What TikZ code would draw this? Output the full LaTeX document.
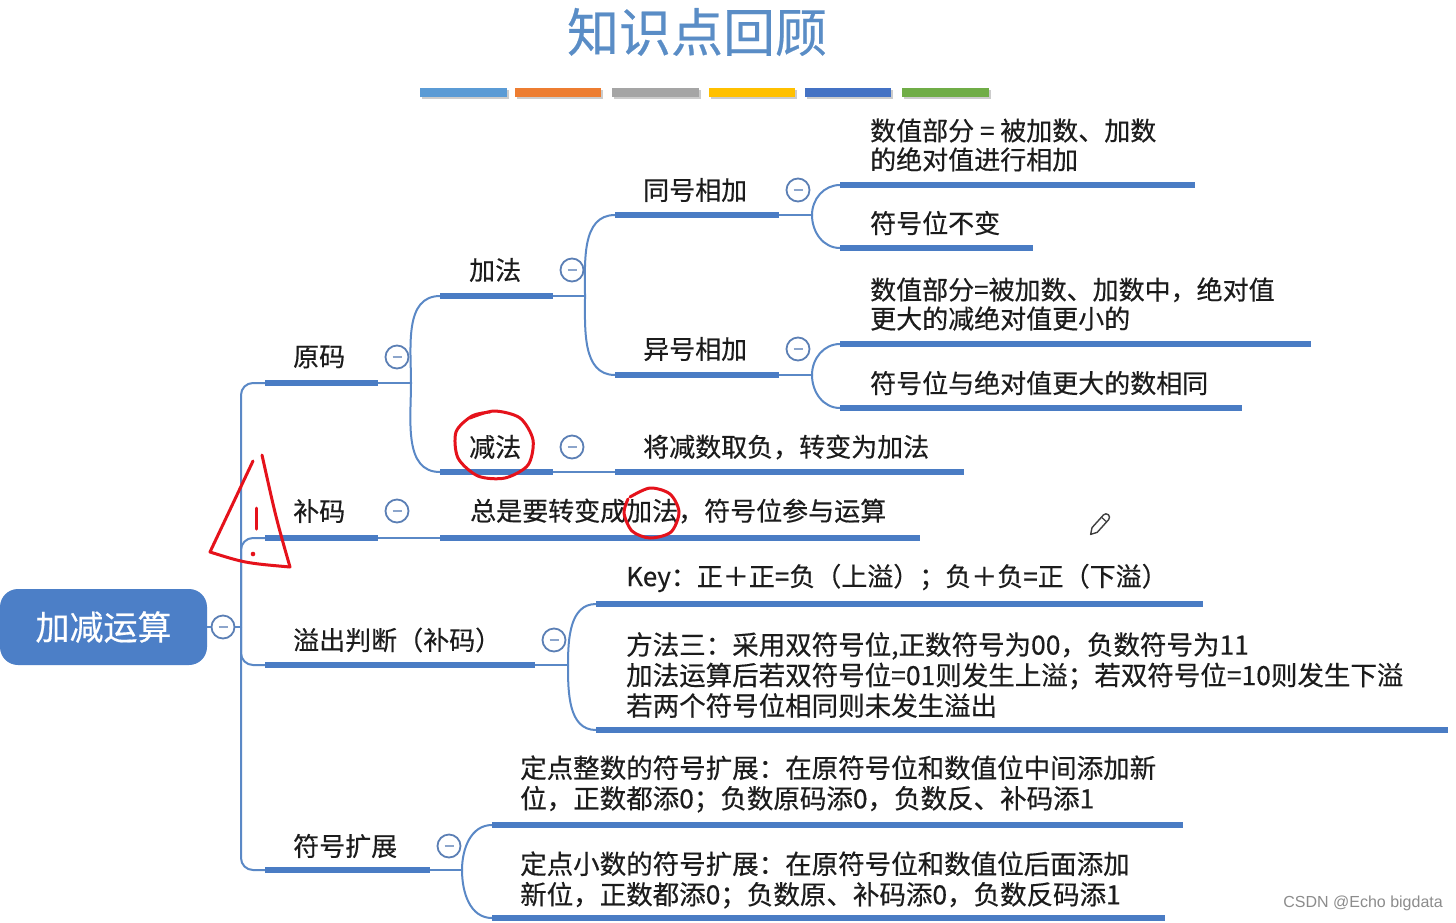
\documentclass[tikz,border=0pt]{standalone}
\usepackage{fontspec}
\setmainfont{Noto Sans CJK SC}[FakeBold=0.4]
\newfontfamily\wmfont{Liberation Sans}
\definecolor{lineblue}{HTML}{4A7CC4}
\definecolor{connblue}{HTML}{5A88C6}
\definecolor{foldblue}{HTML}{5B7FB5}
\definecolor{rootblue}{HTML}{4C7FC7}
\definecolor{titleblue}{HTML}{5A8DC6}
\definecolor{textblack}{HTML}{1C1C1C}
\definecolor{annored}{HTML}{E5121B}
\definecolor{barA}{HTML}{5B9BD5}
\definecolor{barB}{HTML}{ED7D31}
\definecolor{barC}{HTML}{A5A5A5}
\definecolor{barD}{HTML}{FFC000}
\definecolor{barE}{HTML}{4472C4}
\definecolor{barF}{HTML}{70AD47}
\begin{document}
\begin{tikzpicture}[x=1pt,y=-1pt,
  txt/.style={anchor=west, inner sep=0pt, text=textblack, font=\fontsize{26}{29}\selectfont, align=left},
  txtb/.style={txt, font=\fontsize{26.5}{30.5}\selectfont},
  uline/.style={line width=6pt, draw=lineblue},
  conn/.style={line width=2pt, draw=connblue},
  foldc/.style={circle, draw=foldblue, line width=1.8pt, fill=white, minimum size=23pt, inner sep=0pt,
    path picture={\draw[foldblue!70, line width=1.6pt] ([xshift=-4.5pt]path picture bounding box.center) -- ([xshift=4.5pt]path picture bounding box.center);}},
  rootbox/.style={rounded corners=18pt, fill=rootblue, text=white, minimum width=207pt, minimum height=76pt, inner sep=0pt, font=\fontsize{34}{34}\selectfont},
  redmark/.style={draw=annored, line width=3pt, line cap=round, line join=round}
]
\fill[white] (0,0) rectangle (1456,922);
\useasboundingbox (0,0) rectangle (1456,922);

% title and colour bars
\node[inner sep=0pt, text=titleblue, font=\fontsize{52}{52}\selectfont] (title) at (697,32) {知识点回顾};
\foreach \xa/\xb/\c in {420/507/barA, 515/601/barB, 612/699/barC, 709/795/barD, 805/891/barE, 902/989/barF}{
  \fill[black!20] (\xa+1.5,89.5) rectangle (\xb+1.5,98.5);
  \fill[\c] (\xa,88) rectangle (\xb,97);
}

% underline coordinates
\coordinate (yuanS) at (265,383); \coordinate (yuanE) at (378,383);
\coordinate (buS) at (265,538);   \coordinate (buE) at (378,538);
\coordinate (yiS) at (265,665);   \coordinate (yiE) at (535,665);
\coordinate (fuS) at (265,870);   \coordinate (fuE) at (430,870);
\coordinate (jiaS) at (440,296);  \coordinate (jiaE) at (553,296);
\coordinate (jianS) at (440,472); \coordinate (jianE) at (553,472);
\coordinate (tongS) at (615,215); \coordinate (tongE) at (779,215);
\coordinate (yhS) at (615,375);   \coordinate (yhE) at (779,375);
\coordinate (c9S) at (840,185);   \coordinate (c9E) at (1195,185);
\coordinate (c10S) at (840,248);  \coordinate (c10E) at (1033,248);
\coordinate (c11S) at (840,344);  \coordinate (c11E) at (1311,344);
\coordinate (c12S) at (840,408);  \coordinate (c12E) at (1242,408);
\coordinate (c13S) at (615,472);  \coordinate (c13E) at (964,472);
\coordinate (c14S) at (440,538);  \coordinate (c14E) at (920,538);
\coordinate (c15S) at (596,604);  \coordinate (c15E) at (1203,604);
\coordinate (c16S) at (596,730);  \coordinate (c16E) at (1448,730);
\coordinate (c17S) at (492,825);  \coordinate (c17E) at (1183,825);
\coordinate (c18S) at (492,918);  \coordinate (c18E) at (1165,918);
% junctions
\coordinate (trunk) at (241,627);
\coordinate (jYuan) at (411,383);
\coordinate (jJia) at (585,296);
\coordinate (jTong) at (812,215);
\coordinate (jYh) at (812,375);
\coordinate (jYi) at (568,665);
\coordinate (jFu) at (462,870);

% root
\node[rootbox] (root) at (103.5,627) {加减运算};
\node[foldc] (f0) at (223,627) {};

% connectors
\draw[conn] (root.east) -- (f0.west);
\draw[conn] (f0.east) -- (trunk);
\foreach \t in {yuanS,buS,yiS,fuS}{
  \draw[conn, rounded corners=12pt] (trunk) |- (\t);
}
\draw[conn] (yuanE) -- (jYuan);
\draw[conn] (jYuan) to[out=90,in=180] (jiaS);
\draw[conn] (jYuan) to[out=-90,in=180] (jianS);
\draw[conn] (jiaE) -- (jJia);
\draw[conn] (jJia) to[out=90,in=180] (tongS);
\draw[conn] (jJia) to[out=-90,in=180] (yhS);
\draw[conn] (tongE) -- (jTong);
\draw[conn] (jTong) to[out=90,in=180] (c9S);
\draw[conn] (jTong) to[out=-90,in=180] (c10S);
\draw[conn] (yhE) -- (jYh);
\draw[conn] (jYh) to[out=90,in=180] (c11S);
\draw[conn] (jYh) to[out=-90,in=180] (c12S);
\draw[conn] (jianE) -- (c13S);
\draw[conn] (buE) -- (c14S);
\draw[conn] (yiE) -- (jYi);
\draw[conn] (jYi) to[out=90,in=180] (c15S);
\draw[conn] (jYi) to[out=-90,in=180] (c16S);
\draw[conn] (fuE) -- (jFu);
\draw[conn] (jFu) to[out=90,in=180] (c17S);
\draw[conn] (jFu) to[out=-90,in=180] (c18S);

% underlines
\foreach \n in {yuan,bu,yi,fu,jia,jian,tong,yh,c9,c10,c11,c12,c13,c14,c15,c16,c17,c18}{
  \draw[uline] (\n S) -- (\n E);
}

% fold circles
\node[foldc] (f1) at (397,357) {};
\node[foldc] (f2) at (397,511) {};
\node[foldc] (f3) at (554,640) {};
\node[foldc] (f4) at (449,846) {};
\node[foldc] (f5) at (572,270) {};
\node[foldc] (f6) at (572,447) {};
\node[foldc] (f7) at (798,190) {};
\node[foldc] (f8) at (798,349) {};

% texts
\node[txt] (t1) at (293,357) {原码};
\node[txt] (t2) at (293,511) {补码};
\node[txt] (t3) at (293,640) {溢出判断（补码）};
\node[txt] (t4) at (293,846) {符号扩展};
\node[txt] (t5) at (469,270) {加法};
\node[txt] (t6) at (469,447) {减法};
\node[txt] (t7) at (643,190) {同号相加};
\node[txt] (t8) at (643,349) {异号相加};
\node[txt] (t9) at (870,145) {数值部分 = 被加数、加数\\的绝对值进行相加};
\node[txt] (t10) at (870,223) {符号位不变};
\node[txt] (t11) at (870,304) {数值部分=被加数、加数中，绝对值\\更大的减绝对值更小的};
\node[txt] (t12) at (870,383) {符号位与绝对值更大的数相同};
\node[txt] (t13) at (643,447) {将减数取负，转变为加法};
\node[txt] (t14) at (470,511) {总是要转变成加法，符号位参与运算};
\node[txt] (t15) at (626,578) {Key：正＋正=负（上溢）；负＋负=正（下溢）};
\node[txtb] (t16) at (626,675) {方法三：采用双符号位,正数符号为00，负数符号为11\\加法运算后若双符号位=01则发生上溢；若双符号位=10则发生下溢\\若两个符号位相同则未发生溢出};
\node[txtb] (t17) at (520,784) {定点整数的符号扩展：在原符号位和数值位中间添加新\\位，正数都添0；负数原码添0，负数反、补码添1};
\node[txtb] (t18) at (520,880) {定点小数的符号扩展：在原符号位和数值位后面添加\\新位，正数都添0；负数原、补码添0，负数反码添1};

% watermark
\node[anchor=east, inner sep=0pt, font=\wmfont\fontsize{16}{16}\selectfont, text=black!45] (wm) at (1443,903) {CSDN @Echo bigdata};

% pencil cursor
\begin{scope}[shift={(1100,524)}, rotate=48]
  \draw[line width=1.4pt, draw=black!75, line join=round] (-14,0) -- (-8,-3.5) -- (9,-3.5) arc[start angle=-90, end angle=90, radius=3.5] -- (-8,3.5) -- cycle;
  \draw[line width=1.2pt, draw=black!75] (6,-3.5) -- (6,3.5);
\end{scope}

% red hand annotations
\draw[redmark] plot[smooth] coordinates {(470,418) (494,411) (520,418) (533,440) (528,465) (505,478) (478,476) (458,458) (456,432) (472,416) (490,412)};
\draw[redmark] plot[smooth] coordinates {(630,497) (650,488) (670,494) (679,512) (671,532) (650,538) (632,531) (624,513) (628,499)};
\draw[redmark] (253,461) -- (210,552) .. controls (245,563) .. (290,567) .. controls (276,518) .. (262,455);
\draw[redmark] (256,508) -- (256,529);
\fill[annored] (253,554) circle (2.3);
\end{tikzpicture}
\end{document}
